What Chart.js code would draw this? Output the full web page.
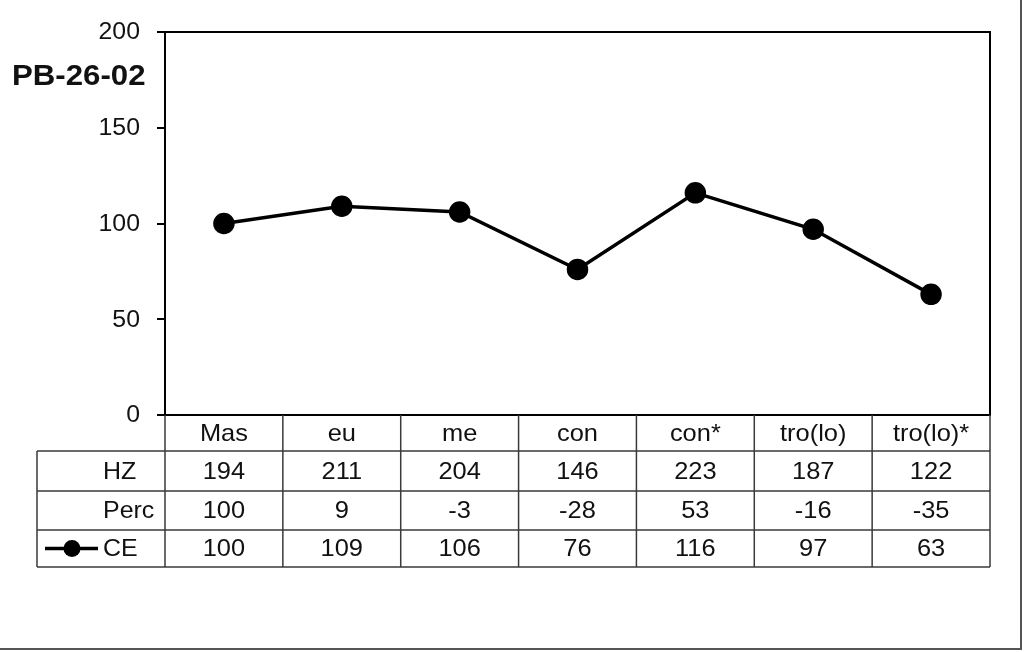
<!DOCTYPE html>
<html>
<head>
<meta charset="utf-8">
<script src="https://cdn.jsdelivr.net/npm/chart.js@4.4.0/dist/chart.umd.min.js"></script>
<style>
  html, body { margin: 0; padding: 0; background: #fff; }
  #wrap { width: 1028px; height: 652px; }
</style>
</head>
<body>
<div id="wrap"><canvas id="chart" width="1028" height="652"></canvas></div>
<script>
// chart data
var categories = ['Mas', 'eu', 'me', 'con', 'con*', 'tro(lo)', 'tro(lo)*'];
var hzValues = [194, 211, 204, 146, 223, 187, 122];
var percValues = [100, 9, -3, -28, 53, -16, -35];
var ceValues = [100, 109, 106, 76, 116, 97, 63];
var yTicks = [0, 50, 100, 150, 200];
var chartTitle = 'PB-26-02';

var FONT = '"Liberation Sans", Arial, sans-serif';

// text with a little horizontal stretch, anchored at x
function wideText(ctx, text, x, y, align, sx) {
  ctx.save();
  ctx.translate(x, y);
  ctx.scale(sx, 1);
  ctx.textAlign = align;
  ctx.fillText(text, 0, 0);
  ctx.restore();
}

// draws the plot frame, y labels, the data table under it and the outer border
var tablePlugin = {
  id: 'dataTable',
  afterDraw: function(chart) {
    var ctx = chart.ctx;
    var area = chart.chartArea;
    var xs = chart.scales.x;
    var ys = chart.scales.y;
    var half = (xs.getPixelForValue(1) - xs.getPixelForValue(0)) / 2;
    var tableLeft = 37;
    var rowTops = [area.bottom, 451, 491, 530, 567];

    ctx.save();
    // plot frame
    ctx.strokeStyle = '#000';
    ctx.lineWidth = 2;
    ctx.strokeRect(area.left, area.top, area.right - area.left, area.bottom - area.top);

    // y tick labels
    ctx.fillStyle = '#111';
    ctx.font = '23px ' + FONT;
    ctx.textBaseline = 'middle';
    yTicks.forEach(function(v) {
      wideText(ctx, String(v), 140, ys.getPixelForValue(v) + 1, 'right', 1.08);
    });

    // table grid
    ctx.strokeStyle = '#3a3a3a';
    ctx.lineWidth = 1.5;
    ctx.beginPath();
    for (var r = 1; r < rowTops.length; r++) {
      ctx.moveTo(tableLeft, rowTops[r]);
      ctx.lineTo(area.right, rowTops[r]);
    }
    ctx.moveTo(tableLeft, rowTops[1]);
    ctx.lineTo(tableLeft, rowTops[4]);
    for (var i = 0; i <= categories.length; i++) {
      var bx = (i < categories.length) ? xs.getPixelForValue(i) - half : xs.getPixelForValue(i - 1) + half;
      ctx.moveTo(bx, rowTops[0]);
      ctx.lineTo(bx, rowTops[4]);
    }
    ctx.stroke();

    // cell text
    ctx.fillStyle = '#111';
    ctx.font = '24px ' + FONT;
    var rows = [categories, hzValues, percValues, ceValues];
    for (var r2 = 0; r2 < rows.length; r2++) {
      var cy = (rowTops[r2] + rowTops[r2 + 1]) / 2 + 1;
      for (var c = 0; c < rows[r2].length; c++) {
        wideText(ctx, String(rows[r2][c]), xs.getPixelForValue(c), cy, 'center', 1.06);
      }
    }

    // row labels
    var labels = ['HZ', 'Perc', 'CE'];
    for (var k = 0; k < labels.length; k++) {
      wideText(ctx, labels[k], 103, (rowTops[k + 1] + rowTops[k + 2]) / 2 + 1, 'left', 1.04);
    }

    // legend marker for CE
    var ly = (rowTops[3] + rowTops[4]) / 2;
    ctx.strokeStyle = '#000';
    ctx.lineWidth = 3.5;
    ctx.beginPath();
    ctx.moveTo(45, ly);
    ctx.lineTo(98, ly);
    ctx.stroke();
    ctx.fillStyle = '#000';
    ctx.beginPath();
    ctx.arc(72, ly, 8.5, 0, Math.PI * 2);
    ctx.fill();

    // title
    ctx.font = 'bold 30px ' + FONT;
    ctx.fillStyle = '#111';
    wideText(ctx, chartTitle, 12, 77, 'left', 1.04);

    // outer border (right and bottom)
    ctx.strokeStyle = '#555';
    ctx.lineWidth = 2;
    ctx.beginPath();
    ctx.moveTo(1021, 0);
    ctx.lineTo(1021, 649);
    ctx.lineTo(0, 649);
    ctx.stroke();
    ctx.restore();
  }
};

new Chart(document.getElementById('chart').getContext('2d'), {
  type: 'line',
  data: {
    labels: categories,
    datasets: [{
      label: 'CE',
      data: ceValues,
      borderColor: '#000',
      backgroundColor: '#000',
      borderWidth: 3.5,
      pointRadius: 9,
      pointHoverRadius: 9,
      pointBackgroundColor: '#000',
      pointBorderColor: '#000',
      tension: 0
    }]
  },
  options: {
    responsive: false,
    animation: false,
    events: [],
    layout: { padding: { left: 0, right: 38, top: 32, bottom: 237 } },
    plugins: {
      legend: { display: false },
      tooltip: { enabled: false },
      title: { display: false }
    },
    scales: {
      x: {
        type: 'category',
        offset: true,
        display: false
      },
      y: {
        min: 0,
        max: 200,
        afterFit: function(scale) { scale.width = 165; },
        afterBuildTicks: function(scale) {
          scale.ticks = yTicks.map(function(v) { return { value: v }; });
        },
        border: { display: true, color: '#000', width: 2 },
        grid: {
          drawOnChartArea: false,
          drawTicks: true,
          tickLength: 8,
          color: '#000',
          lineWidth: 2
        },
        ticks: { display: false }
      }
    }
  },
  plugins: [tablePlugin]
});
</script>
</body>
</html>
